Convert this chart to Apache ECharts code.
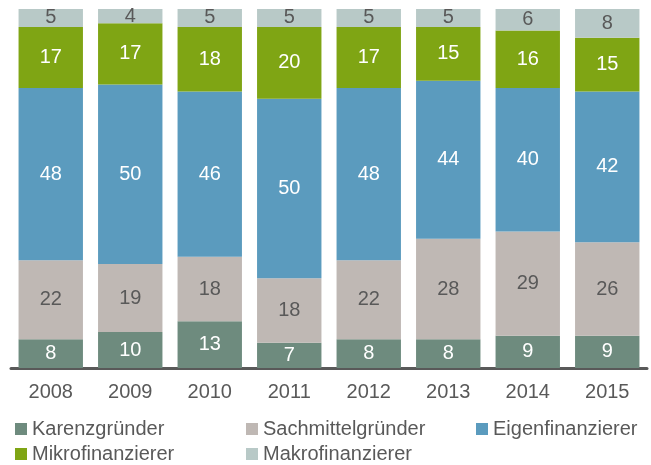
<!DOCTYPE html>
<html>
<head>
<meta charset="utf-8">
<script src="https://cdn.jsdelivr.net/npm/echarts@6/dist/echarts.min.js"></script>
<style>
  html, body { margin: 0; padding: 0; background: #fff; }
  #chart { width: 651px; height: 465px; }
</style>
</head>
<body>
<div id="chart"></div>
<script>
// data (percent shares per year)
const years = ['2008', '2009', '2010', '2011', '2012', '2013', '2014', '2015'];
const karenz = [8, 10, 13, 7, 8, 8, 9, 9];
const sachmittel = [22, 19, 18, 18, 22, 28, 29, 26];
const eigen = [48, 50, 46, 50, 48, 44, 40, 42];
const mikro = [17, 17, 18, 20, 17, 15, 16, 15];
const makro = [5, 4, 5, 5, 5, 5, 6, 8];

const names = ['Karenzgründer', 'Sachmittelgründer', 'Eigenfinanzierer', 'Mikrofinanzierer', 'Makrofinanzierer'];
const colors = ['#6e8b7e', '#bfb8b4', '#5b9bbe', '#7fa514', '#b8c9c7'];
const labelColors = ['#fff', '#595959', '#fff', '#fff', '#595959'];
const values = [karenz, sachmittel, eigen, mikro, makro];

const legendPos = [[15, 419], [246, 419], [476, 419], [15, 444], [246, 444]];

let myChart = echarts.init(document.getElementById('chart'));

myChart.setOption({
  animation: false,
  textStyle: { fontFamily: 'Liberation Sans, Arial, sans-serif' },
  grid: { left: 11, right: 4, top: 9, bottom: 97 },
  legend: names.map((n, i) => ({
    data: [n],
    left: legendPos[i][0],
    top: legendPos[i][1],
    icon: 'rect',
    itemWidth: 12,
    itemHeight: 12,
    padding: 0,
    textStyle: { fontSize: 20, color: '#595959' }
  })),
  xAxis: {
    type: 'category',
    data: years,
    axisLine: { lineStyle: { color: '#595959', width: 3 } },
    axisTick: { show: false },
    axisLabel: { fontSize: 20, color: '#595959', margin: 14 }
  },
  yAxis: {
    type: 'value',
    min: 0,
    max: 100,
    show: false,
    splitLine: { show: false }
  },
  series: names.map((n, i) => ({
    name: n,
    type: 'bar',
    stack: 'total',
    barCategoryGap: '19%',
    data: values[i],
    itemStyle: { color: colors[i] },
    label: {
      show: true,
      position: 'inside',
      fontSize: 20,
      color: labelColors[i]
    }
  }))
});
</script>
</body>
</html>
